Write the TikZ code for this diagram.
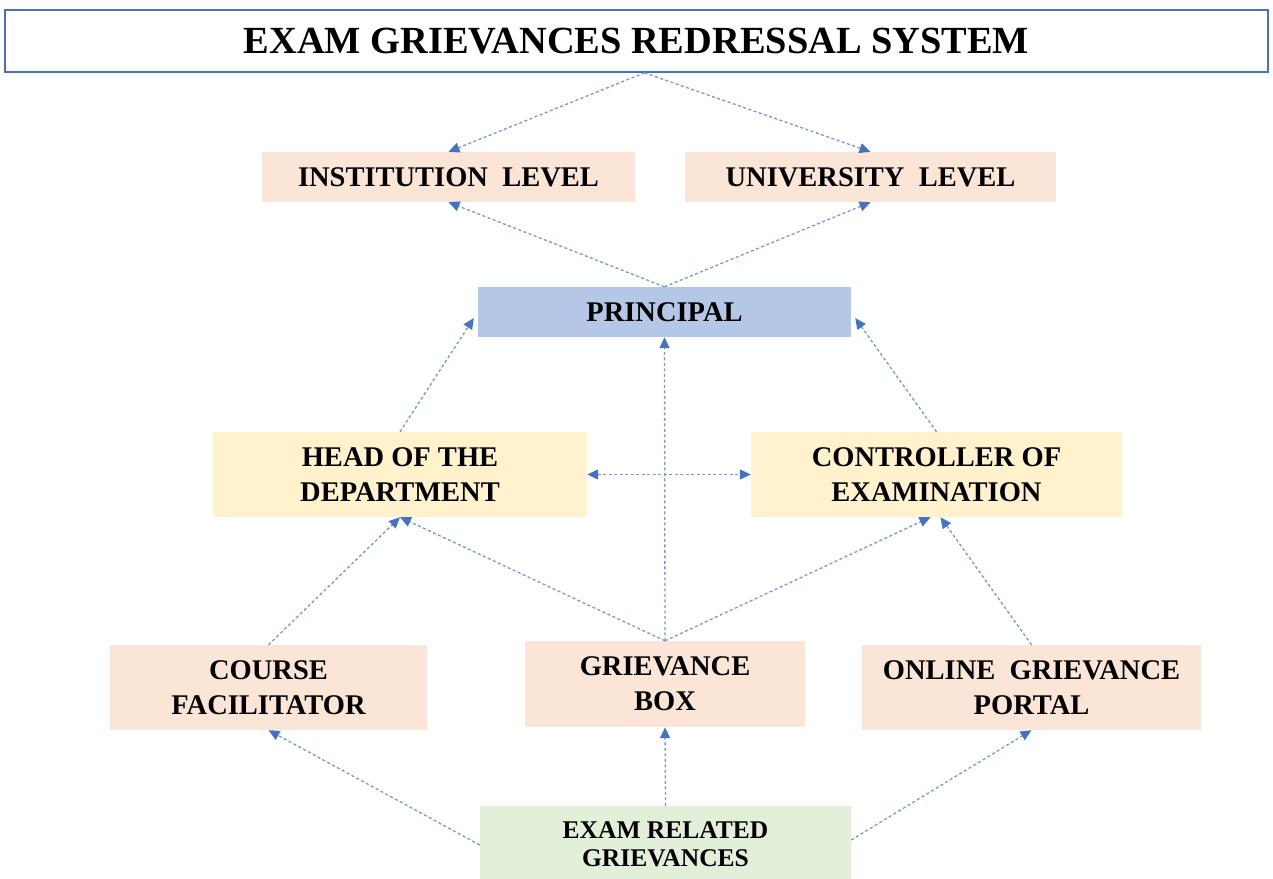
\documentclass[tikz,border=0pt]{standalone}
\usepackage{fontspec}
\setmainfont{Liberation Serif}
\usetikzlibrary{arrows.meta,calc}
\definecolor{peach}{HTML}{FBE5D6}
\definecolor{pblue}{HTML}{B4C7E7}
\definecolor{pyellow}{HTML}{FFF2CC}
\definecolor{pgreen}{HTML}{E2F0D9}
\definecolor{tblue}{HTML}{4472C4}
\definecolor{lblue}{HTML}{7498DA}
\tikzset{
  box/.style={rectangle, inner sep=0pt, align=center, font=\fontsize{28.5}{35}\selectfont\bfseries},
  conn/.style={draw=lblue, line width=1.3pt, dash pattern=on 3pt off 2.5pt,
     -{Triangle[length=11pt,width=10pt,color=tblue]}},
  biconn/.style={draw=lblue, line width=1.3pt, dash pattern=on 3pt off 2.5pt,
     {Triangle[length=11pt,width=10pt,color=tblue]}-{Triangle[length=11pt,width=10pt,color=tblue]}}
}
\begin{document}
\begin{tikzpicture}[x=1pt,y=-1pt]
\clip (0,0) rectangle (1273,878);
\fill[white] (0,0) rectangle (1273,878);
\node[rectangle, draw=tblue, line width=1.6pt, minimum width=1263pt, minimum height=62pt, inner sep=0pt,
  font=\fontsize{38.4}{42}\selectfont\bfseries] (title) at (636.5,41) {EXAM GRIEVANCES REDRESSAL SYSTEM};
\node[box, fill=peach, minimum width=373pt, minimum height=50pt] (inst) at (448.5,177) {INSTITUTION\ \ LEVEL};
\node[box, fill=peach, minimum width=371pt, minimum height=50pt] (univ) at (870.5,177) {UNIVERSITY\ \ LEVEL};
\node[box, fill=pblue, minimum width=373pt, minimum height=50pt] (princ) at (664.5,312) {PRINCIPAL};
\node[box, fill=pyellow, minimum width=374pt, minimum height=85pt] (hod) at (400,474.5) {HEAD OF THE\\DEPARTMENT};
\node[box, fill=pyellow, minimum width=371pt, minimum height=85pt] (ctrl) at (936.5,474.5) {CONTROLLER OF\\EXAMINATION};
\node[box, fill=peach, minimum width=317pt, minimum height=85pt] (course) at (268.5,687.5) {COURSE\\FACILITATOR};
\node[box, fill=peach, minimum width=280pt, minimum height=86pt] (gbox) at (665,684) {GRIEVANCE\\BOX};
\node[box, fill=peach, minimum width=339pt, minimum height=85pt] (portal) at (1031.5,687.5) {ONLINE\ \ GRIEVANCE\\PORTAL};
\node[box, fill=pgreen, minimum width=371pt, minimum height=76pt, font=\fontsize{25.5}{28}\selectfont\bfseries] (exam) at (665.5,844) {EXAM RELATED\\GRIEVANCES};

\coordinate (ts) at ($(title.south)+(8,0)$);
\draw[conn] (ts) -- (inst.north);
\draw[conn] (ts) -- (univ.north);
\draw[conn] (princ.north) -- (inst.south);
\draw[conn] (princ.north) -- (univ.south);
\draw[conn] (hod.north) -- ($(princ.west)+(-4,6)$);
\draw[conn] (ctrl.north) -- ($(princ.east)+(4,6)$);
\draw[conn] (gbox.north) -- (princ.south);
\draw[conn] (gbox.north) -- (hod.south);
\draw[conn] (gbox.north) -- ($(ctrl.south)+(-6,0)$);
\draw[biconn] (hod.east) -- (ctrl.west);
\draw[conn] (course.north) -- (hod.south);
\draw[conn] (portal.north) -- ($(ctrl.south)+(4,0)$);
\draw[conn] ($(exam.west)+(0,1)$) -- (course.south);
\draw[conn] (exam.north) -- (gbox.south);
\draw[conn] ($(exam.east)+(0,-4)$) -- (portal.south);
\end{tikzpicture}
\end{document}
